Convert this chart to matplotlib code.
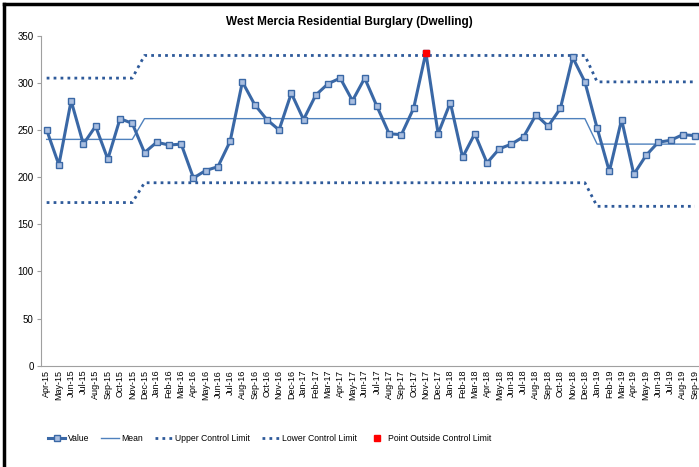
import matplotlib.pyplot as plt
from matplotlib.lines import Line2D
import numpy as np

months = ['Apr-15', 'May-15', 'Jun-15', 'Jul-15', 'Aug-15', 'Sep-15', 'Oct-15', 'Nov-15', 'Dec-15',
          'Jan-16', 'Feb-16', 'Mar-16', 'Apr-16', 'May-16', 'Jun-16', 'Jul-16', 'Aug-16', 'Sep-16',
          'Oct-16', 'Nov-16', 'Dec-16',
          'Jan-17', 'Feb-17', 'Mar-17', 'Apr-17', 'May-17', 'Jun-17', 'Jul-17', 'Aug-17', 'Sep-17',
          'Oct-17', 'Nov-17', 'Dec-17',
          'Jan-18', 'Feb-18', 'Mar-18', 'Apr-18', 'May-18', 'Jun-18', 'Jul-18', 'Aug-18', 'Sep-18',
          'Oct-18', 'Nov-18', 'Dec-18',
          'Jan-19', 'Feb-19', 'Mar-19', 'Apr-19', 'May-19', 'Jun-19', 'Jul-19', 'Aug-19', 'Sep-19']

values = [250, 213, 281, 235, 254, 219, 262, 257, 226,
          237, 234, 235, 199, 207, 211, 238, 301, 277, 261, 250, 289,
          261, 287, 299, 305, 281, 305, 275, 246, 245, 273, 332, 246,
          279, 221, 246, 215, 230, 235, 243, 266, 254, 273, 327, 301,
          252, 206, 261, 203, 223, 237, 239, 245, 244]

# three periods: Apr-15..Nov-15, Dec-15..Dec-18, Jan-19..Sep-19
period_len = [8, 37, 9]
mean_lvl = [240, 262, 235]
ucl_lvl = [305, 329, 301]
lcl_lvl = [173, 194, 169]

mean = np.repeat(mean_lvl, period_len)
ucl = np.repeat(ucl_lvl, period_len)
lcl = np.repeat(lcl_lvl, period_len)

outside = [np.nan] * len(values)
outside[months.index('Nov-17')] = values[months.index('Nov-17')]

plt.rcParams['font.family'] = ['Liberation Sans', 'DejaVu Sans']

fig = plt.figure(figsize=(6.99, 4.67), dpi=100)
ax = fig.add_axes([0.058, 0.217, 0.945, 0.7066])

x = np.arange(len(months))
dots = (0, (1, 1.5))
ax.plot(x, ucl, color='#2E5A9A', lw=2, linestyle=dots, label='Upper Control Limit')
ax.plot(x, lcl, color='#2E5A9A', lw=2, linestyle=dots, label='Lower Control Limit')
ax.plot(x, mean, color='#4F81BD', lw=1, label='Mean')
ax.plot(x, values, color='#3A68A6', lw=2.2, marker='s', markersize=4.5,
        markerfacecolor='#A9BEE0', markeredgecolor='#3A68A6', markeredgewidth=1, label='Value')
ax.plot(x, outside, linestyle='none', marker='s', markersize=5, color='#FF0000',
        label='Point Outside Control Limit')

ax.set_xlim(-0.5, len(months) - 0.5)
ax.set_ylim(0, 350)
ax.set_yticks(range(0, 351, 50))
ax.set_xticks(x)
ax.set_xticklabels(months, rotation=90, fontsize=6.5)
ax.tick_params(axis='y', labelsize=7, length=3, color='#A0A0A0', pad=2)
ax.tick_params(axis='x', length=0, pad=3)
for s in ['top', 'right']:
    ax.spines[s].set_visible(False)
for s in ['left', 'bottom']:
    ax.spines[s].set_color('#A0A0A0')

fig.text(0.5, 0.952, 'West Mercia Residential Burglary (Dwelling)', ha='center', va='center',
         fontsize=8.5, fontweight='bold')

h = {l.get_label(): l for l in ax.get_lines()}
order = ['Value', 'Mean', 'Upper Control Limit', 'Lower Control Limit', 'Point Outside Control Limit']
fig.legend([h[k] for k in order], order, loc='center', bbox_to_anchor=(0.386, 0.062), ncol=5,
           frameon=False, fontsize=6.2, handlelength=2.0, columnspacing=1.4, handletextpad=0.3)

# chart frame (cropped on right and bottom)
fig.add_artist(Line2D([0.006, 0.006], [0, 0.991], color='black', lw=2.5))
fig.add_artist(Line2D([0.006, 1], [0.991, 0.991], color='black', lw=2.5))

fig.savefig('out.png', dpi=100)
